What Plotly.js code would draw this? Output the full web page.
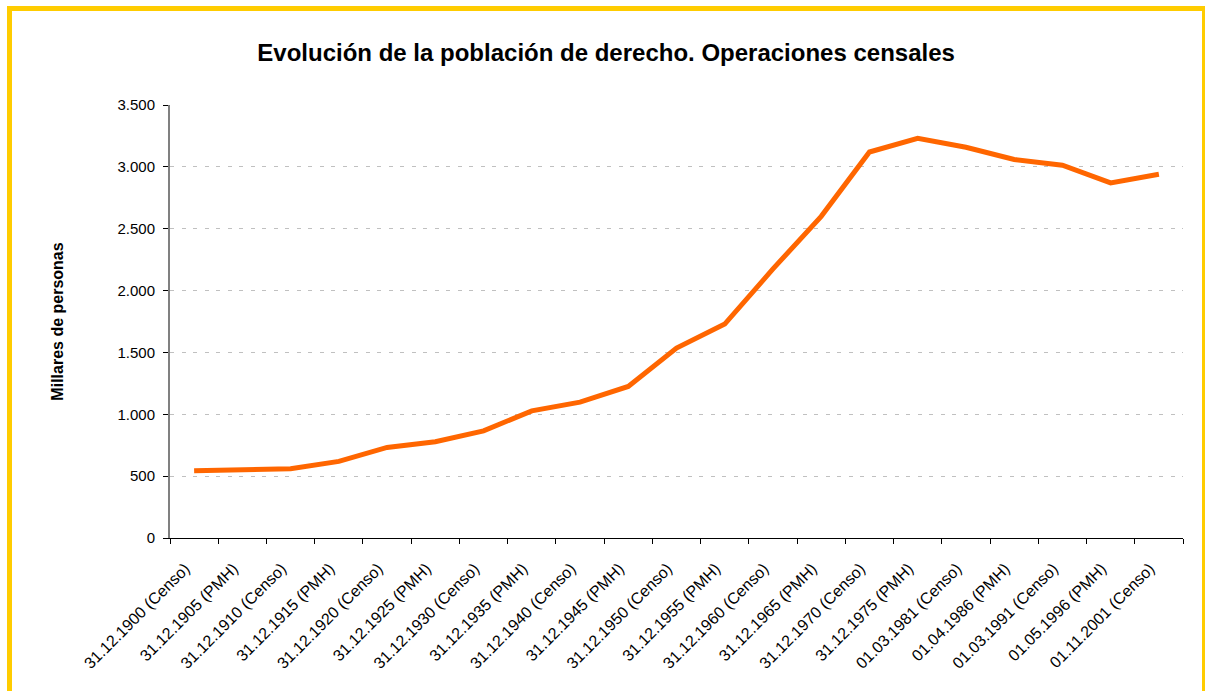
<!DOCTYPE html>
<html>
<head>
<meta charset="utf-8">
<script src="https://cdn.plot.ly/plotly-3.0.1.min.js"></script>
<style>
  html, body { margin: 0; padding: 0; background: #ffffff; }
  #chart { position: absolute; left: 0; top: 0; width: 1205px; height: 691px; }
  #frame { position: absolute; left: 7px; top: 6px; width: 1190px; height: 700px;
           border: 5px solid #FFCC00; pointer-events: none; }
</style>
</head>
<body>
<div id="chart"></div>
<div id="frame"></div>
<script>
const categories = [
  "31.12.1900 (Censo)", "31.12.1905 (PMH)", "31.12.1910 (Censo)", "31.12.1915 (PMH)",
  "31.12.1920 (Censo)", "31.12.1925 (PMH)", "31.12.1930 (Censo)", "31.12.1935 (PMH)",
  "31.12.1940 (Censo)", "31.12.1945 (PMH)", "31.12.1950 (Censo)", "31.12.1955 (PMH)",
  "31.12.1960 (Censo)", "31.12.1965 (PMH)", "31.12.1970 (Censo)", "31.12.1975 (PMH)",
  "01.03.1981 (Censo)", "01.04.1986 (PMH)", "01.03.1991 (Censo)", "01.05.1996 (PMH)",
  "01.11.2001 (Censo)"
];
const poblacion = [
  543, 552, 560, 619, 732, 778, 866, 1028, 1098, 1225, 1535,
  1729, 2175, 2600, 3120, 3230, 3158, 3060, 3013, 2870, 2940
];
const yTicks = [0, 500, 1000, 1500, 2000, 2500, 3000, 3500];

const trace = {
  x: categories,
  y: poblacion,
  type: "scatter",
  mode: "lines",
  line: { color: "#FF6600", width: 5 },
  hoverinfo: "x+y"
};

const layout = {
  width: 1205,
  height: 691,
  margin: { l: 170, r: 22, t: 105, b: 153 },
  paper_bgcolor: "#ffffff",
  plot_bgcolor: "#ffffff",
  separators: ",.",
  showlegend: false,
  font: { family: "Arial, 'Liberation Sans', sans-serif", color: "#000000" },
  title: {
    text: "<b>Evolución de la población de derecho. Operaciones censales</b>",
    font: { size: 24, family: "Arial, 'Liberation Sans', sans-serif", color: "#000000" },
    x: 0.503, xanchor: "center",
    y: 1 - 53 / 691, yanchor: "middle"
  },
  xaxis: {
    type: "category",
    range: [-0.5, categories.length - 0.5],
    tickangle: -45,
    tickson: "boundaries",
    ticks: "outside",
    ticklen: 5,
    tickcolor: "#000000",
    showline: true,
    linecolor: "#000000",
    linewidth: 1,
    showgrid: false,
    zeroline: false,
    tickfont: { size: 16, color: "#000000" },
    ticklabelstandoff: 14,
    ticklabelshift: -9,
    fixedrange: true
  },
  yaxis: {
    range: [0, 3500],
    tickvals: yTicks,
    tickformat: ",d",
    ticks: "outside",
    ticklen: 5,
    tickcolor: "#000000",
    showline: true,
    linecolor: "#808080",
    linewidth: 2,
    showgrid: true,
    gridcolor: "#C0C0C0",
    gridwidth: 1,
    griddash: "4px,7.5px",
    zeroline: false,
    tickfont: { size: 15, color: "#000000" },
    ticklabelstandoff: 5,
    title: {
      text: "<b>Millares de personas</b>",
      font: { size: 16, color: "#000000" },
      standoff: 50
    },
    automargin: false,
    fixedrange: true
  }
};

Plotly.newPlot("chart", [trace], layout, { displayModeBar: false, staticPlot: true });
</script>
</body>
</html>
